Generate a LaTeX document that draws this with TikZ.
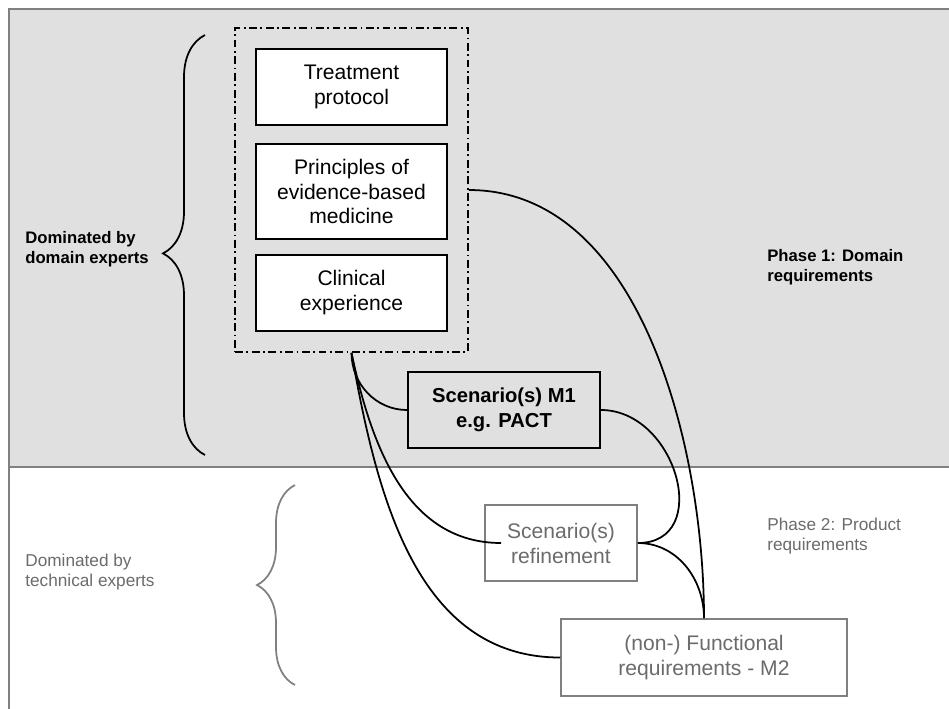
\documentclass[tikz,border=0pt]{standalone}
\usepackage{fontspec}
\setmainfont{Liberation Sans}
\usetikzlibrary{fit, decorations.pathreplacing}

\definecolor{bggray}{gray}{0.88}
\definecolor{linegray}{gray}{0.5}
\definecolor{textgray}{gray}{0.42}

\begin{document}
\begin{tikzpicture}[x=0.02cm, y=-0.02cm,
		box/.style={draw, line width=1.1pt, align=center, minimum width=3.82cm, minimum height=1.52cm, inner sep=2pt, font=\fontsize{12}{14.2}\selectfont},
		greybox/.style={box, draw=linegray, text=textgray, line width=0.9pt},
		sidelabel/.style={align=left, anchor=west, inner sep=0pt, font=\bfseries\fontsize{9.5}{11.3}\selectfont},
		greylabel/.style={sidelabel, text=textgray, font=\fontsize{9.8}{11.3}\selectfont},
		link/.style={line width=1pt},
		bracket/.style={decorate, line width=1pt}]
				\useasboundingbox (0,0) rectangle (949,708);
				\draw[linegray, fill=bggray, line width=1pt] (9,9) rectangle (960,467);
				\draw[linegray, line width=1pt] (9,467) -- (9,720);

				\node[box, fill=white] (treat) at (351.5,87) {Treatment\\protocol};
				\node[box, fill=white, minimum height=1.9cm] (princ) at (351.5,191.5) {Principles of\\evidence-based\\medicine};
				\node[box, fill=white] (clin) at (351.5,293) {Clinical\\experience};
				\node[draw, line width=1pt, dash pattern=on 4.5pt off 2pt on 1pt off 2pt, inner sep=0.4cm, fit=(treat)(princ)(clin)] (group) {};

				\node[box, minimum width=3.84cm, font=\bfseries\fontsize{11.5}{14}\selectfont] (m1) at (504,410) {Scenario(s) M1\\e.g. PACT};
				\node[greybox, minimum width=3.04cm] (refine) at (561,543) {Scenario(s)\\refinement};
				\node[greybox, minimum width=5.72cm, minimum height=1.54cm] (func) at (704,657.5) {(non-) Functional\\requirements - M2};

				\node[sidelabel] (domainlab) at (25,249) {Dominated by\\domain experts};
				\node[greylabel] (techlab) at (25,572) {Dominated by\\technical experts};
				\node[sidelabel] (phaseone) at (767,267) {Phase 1: Domain\\requirements};
				\node[greylabel] (phasetwo) at (767,536) {Phase 2: Product\\requirements};

				\draw[bracket, decoration={brace, amplitude=0.84cm, aspect=0.48}] (205,455) -- (205,35);
				\draw[bracket, linegray, decoration={brace, amplitude=0.76cm}] (295,685) -- (295,485);

				\draw[link] (group.south) to[out=-90, in=180] (m1.west);
				\draw[link] (group.south) to[out=-78, in=180] ([xshift=0.34cm]refine.west);
				\draw[link] (group.south) to[out=-80, in=180] (func.west);
				\draw[link] (group.east) to[out=0, in=90, looseness=0.9] (func.north);
				\draw[link] (m1.east) to[out=0, in=0, looseness=1.4] (refine.east);
				\draw[link] (refine.east) to[out=0, in=90] (func.north);
			\end{tikzpicture}
\end{document}
